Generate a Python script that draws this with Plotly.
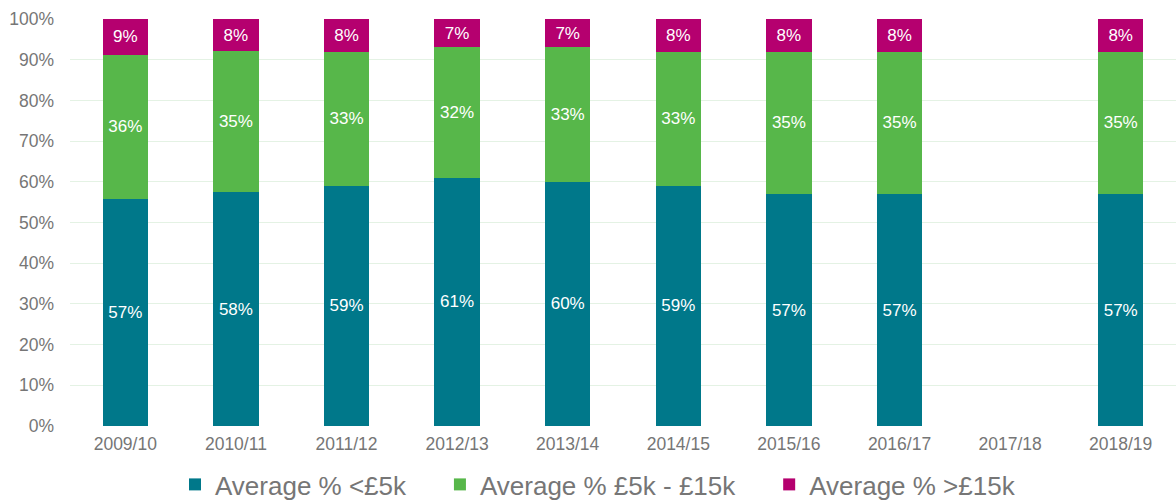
import plotly.graph_objects as go

years = ["2009/10", "2010/11", "2011/12", "2012/13", "2013/14", "2014/15",
         "2015/16", "2016/17", "2017/18", "2018/19"]
under_5k = [57, 58, 59, 61, 60, 59, 57, 57, None, 57]
mid_5k_15k = [36, 35, 33, 32, 33, 33, 35, 35, None, 35]
over_15k = [9, 8, 8, 7, 7, 8, 8, 8, None, 8]

series_names = ["Average % <£5k", "Average % £5k - £15k", "Average % >£15k"]
series_vals = [under_5k, mid_5k_15k, over_15k]
series_colors = ["#00788A", "#57B74A", "#B5006F"]
pads = ["\u00a0\u00a0\u00a0\u00a0", "\u00a0\u00a0\u00a0\u00a0", ""]

fig = go.Figure()
for name, vals, color, pad in zip(series_names, series_vals, series_colors, pads):
    fig.add_trace(go.Bar(
        x=years, y=vals, name=name + pad,
        marker=dict(color=color, line=dict(width=0)),
        text=[f"{v}%" if v is not None else "" for v in vals],
        textposition="inside", insidetextanchor="middle",
        textfont=dict(color="white", size=17, family="Liberation Sans, Arial"),
        textangle=0, hoverinfo="skip",
    ))

fig.update_layout(
    barmode="stack", barnorm="percent", bargap=0.59,
    width=1176, height=500,
    margin=dict(l=70, r=0, t=19, b=74, autoexpand=False),
    paper_bgcolor="white", plot_bgcolor="white",
    font=dict(family="Liberation Sans, Arial", color="#767676"),
    uniformtext=dict(mode=False),
    xaxis=dict(tickfont=dict(size=17.5, color="#767676"), showline=False,
               ticks="", showgrid=False, automargin=False, ticklabelstandoff=5),
    yaxis=dict(range=[0, 100], dtick=10, ticksuffix="%",
               tickfont=dict(size=17.5, color="#767676"),
               gridcolor="#E4F2E4", gridwidth=1, zeroline=False, showline=False,
               ticks="", ticklabelstandoff=15, automargin=False),
    legend=dict(orientation="h", x=0.5085, xanchor="center", xref="container",
                y=0.031, yanchor="middle", yref="container",
                font=dict(size=26, color="#767676"), itemwidth=30,
                traceorder="normal"),
)

fig.write_html("out.html", config={"displayModeBar": False},
               post_script="document.body.style.margin='0';document.body.style.overflow='hidden';")
